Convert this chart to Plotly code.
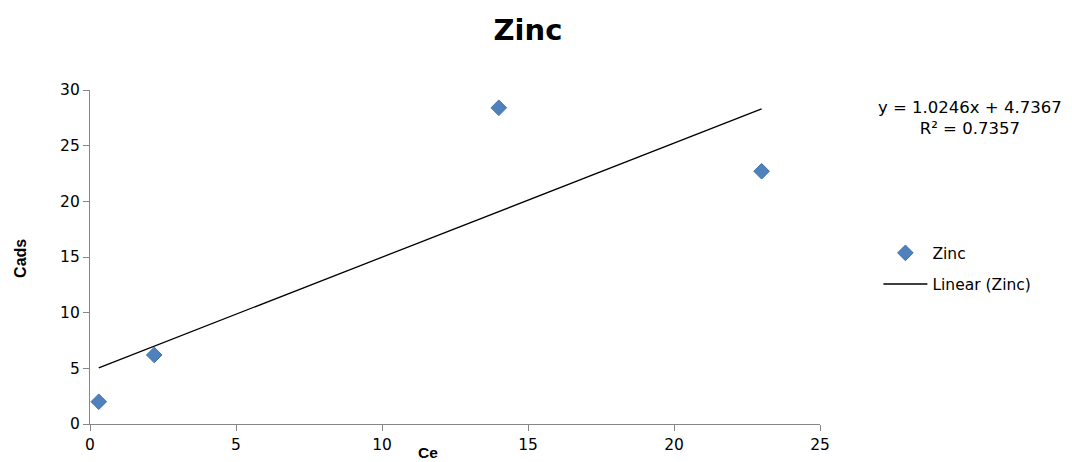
import numpy as np
import plotly.graph_objects as go

# Data
ce = [0.3, 2.2, 14.0, 23.0]
cads = [2.0, 6.2, 28.4, 22.7]
slope = 1.0246
intercept = 4.7367
r2 = 0.7357

x_ticks = [0, 5, 10, 15, 20, 25]
y_ticks = [0, 5, 10, 15, 20, 25, 30]

tx = np.array([min(ce), max(ce)])
ty = slope * tx + intercept

fig = go.Figure()
fig.add_trace(go.Scatter(
    x=ce, y=cads, mode="markers", name="Zinc", legendgroup="a",
    marker=dict(symbol="diamond", size=12, color="#4F81BD",
                line=dict(color="#4472A8", width=1)),
))
fig.add_trace(go.Scatter(
    x=tx, y=ty, mode="lines", name="Linear (Zinc)", legendgroup="b",
    line=dict(color="black", width=1.3),
))

axis_common = dict(
    showgrid=False, zeroline=False, showline=True, linecolor="#868686",
    linewidth=1.3, ticks="outside", ticklen=6, tickcolor="#868686",
    automargin=False,
    tickfont=dict(family="DejaVu Sans", size=15.5, color="black"),
)
fig.update_xaxes(range=[0, 25], tickvals=x_ticks, **axis_common)
fig.update_yaxes(range=[0, 30], tickvals=y_ticks, **axis_common)

fig.update_layout(
    width=1072, height=462,
    margin=dict(l=90, r=252, t=90, b=38, autoexpand=False),
    paper_bgcolor="white", plot_bgcolor="white",
    title=dict(text="<b>Zinc</b>", x=0.4925, xanchor="center", y=0.935, yanchor="middle",
               font=dict(family="DejaVu Sans", size=29, color="black")),
    showlegend=True,
    legend=dict(x=1.08, y=0.562, xanchor="left", yanchor="top", itemwidth=44,
                font=dict(family="DejaVu Sans", size=15.5, color="black"),
                tracegroupgap=8, bgcolor="rgba(0,0,0,0)"),
    annotations=[
        dict(text=f"y = {slope}x + {intercept}<br>R² = {r2}", xref="paper", yref="paper",
             x=1.205, y=0.915, xanchor="center", yanchor="middle", showarrow=False,
             font=dict(family="DejaVu Sans", size=16.5, color="black")),
        dict(text="<b>Ce</b>", xref="paper", yref="paper", x=0.463, y=-0.084,
             xanchor="center", yanchor="middle", showarrow=False,
             font=dict(family="Liberation Sans", size=15.5, color="black")),
        dict(text="<b>Cads</b>", xref="paper", yref="paper", x=-0.096, y=0.497,
             xanchor="center", yanchor="middle", showarrow=False, textangle=-90,
             font=dict(family="Liberation Sans", size=16, color="black")),
    ],
)

fig.write_html("out.html")
